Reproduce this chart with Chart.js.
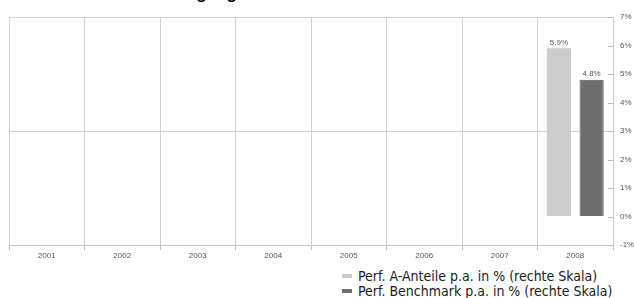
<!DOCTYPE html>
<html>
<head>
<meta charset="utf-8">
<script src="https://cdn.jsdelivr.net/npm/chart.js@4/dist/chart.umd.min.js"></script>
<style>
  body { margin: 0; background: #fff; width: 634px; height: 298px; overflow: hidden; position: relative; font-family: "Liberation Sans", Arial, sans-serif; }
  #title { position: absolute; left: 31px; top: -15px; font-size: 17px; line-height: 17px; font-weight: bold; color: #000; white-space: nowrap; }
  #wrap { position: absolute; left: 0; top: 0; }
  .leg { position: absolute; left: 342px; font-family: "DejaVu Sans Condensed", "DejaVu Sans", sans-serif; font-stretch: condensed; font-size: 14px; line-height: 15px; color: #1a1a1a; white-space: nowrap; }
  .leg span { display: inline-block; width: 10px; height: 4px; vertical-align: middle; margin-right: 6px; position: relative; top: -1px; }
</style>
</head>
<body>
<div id="title">Performance der vergangenen Jahre</div>
<div id="wrap"><canvas id="chart" width="634" height="262"></canvas></div>
<div class="leg" style="top:269px"><span style="background:#cccccc"></span>Perf. A-Anteile p.a. in % (rechte Skala)</div>
<div class="leg" style="top:284px"><span style="background:#6e6e6e"></span>Perf. Benchmark p.a. in % (rechte Skala)</div>
<script>
const years = ['2001', '2002', '2003', '2004', '2005', '2006', '2007', '2008'];
const perfA = [null, null, null, null, null, null, null, 5.9];
const perfBenchmark = [null, null, null, null, null, null, null, 4.8];
const yTicks = [-1, 0, 1, 2, 3, 4, 5, 6, 7];

// value labels over the bars
const barLabels = {
    id: 'barLabels',
    afterDatasetsDraw(chart) {
        const ctx = chart.ctx;
        ctx.save();
        ctx.font = '8px "Liberation Sans", Arial, sans-serif';
        ctx.fillStyle = '#555';
        ctx.textAlign = 'center';
        ctx.textBaseline = 'bottom';
        chart.data.datasets.forEach((ds, i) => {
            chart.getDatasetMeta(i).data.forEach((bar, j) => {
                if (ds.data[j] == null) return;
                ctx.fillText(ds.data[j].toFixed(1) + '%', bar.x, bar.y - 2);
            });
        });
        ctx.restore();
    }
};

// small tick marks inside the right axis
const innerTicks = {
    id: 'innerTicks',
    afterDraw(chart) {
        const y = chart.scales.y;
        const ctx = chart.ctx;
        ctx.save();
        ctx.strokeStyle = '#bbb';
        ctx.lineWidth = 1;
        y.ticks.forEach(t => {
            const py = Math.round(y.getPixelForValue(t.value)) + 0.5;
            ctx.beginPath();
            ctx.moveTo(y.left - 5, py);
            ctx.lineTo(y.left, py);
            ctx.stroke();
        });
        ctx.restore();
    }
};

const ctx = document.getElementById('chart').getContext('2d');
new Chart(ctx, {
    type: 'bar',
    data: {
        labels: years,
        datasets: [
            {
                label: 'Perf. A-Anteile p.a. in % (rechte Skala)',
                data: perfA,
                backgroundColor: '#cccccc',
                borderWidth: 0
            },
            {
                label: 'Perf. Benchmark p.a. in % (rechte Skala)',
                data: perfBenchmark,
                backgroundColor: '#6e6e6e',
                borderColor: '#5a5a5a',
                borderWidth: 1
            }
        ]
    },
    options: {
        responsive: false,
        animation: false,
        categoryPercentage: 0.867,
        barPercentage: 0.74,
        layout: { padding: { left: 9, top: 17, right: 0, bottom: 0 } },
        plugins: { legend: { display: false }, tooltip: { enabled: false } },
        scales: {
            x: {
                grid: {
                    offset: true,
                    color: '#d8d0d0',
                    tickColor: '#bbb',
                    tickLength: 5
                },
                border: { color: '#c8c8c8' },
                ticks: {
                    color: '#555',
                    font: { size: 8, family: '"Liberation Sans", Arial, sans-serif' },
                    padding: 1
                },
                afterFit(scale) { scale.height = 17; }
            },
            y: {
                position: 'right',
                min: -1,
                max: 7,
                afterBuildTicks(scale) { scale.ticks = yTicks.map(v => ({ value: v })); },
                grid: {
                    drawTicks: false,
                    color: c => (c.tick && (c.tick.value === 3 || c.tick.value === 7)) ? '#cfcfcf' : 'rgba(0,0,0,0)'
                },
                border: { color: '#c8c8c8' },
                ticks: {
                    color: '#555',
                    padding: 7,
                    font: { size: 8, family: '"Liberation Sans", Arial, sans-serif' },
                    callback: v => v + '%'
                },
                afterFit(scale) { scale.width = 21; }
            }
        }
    },
    plugins: [barLabels, innerTicks]
});
</script>
</body>
</html>
